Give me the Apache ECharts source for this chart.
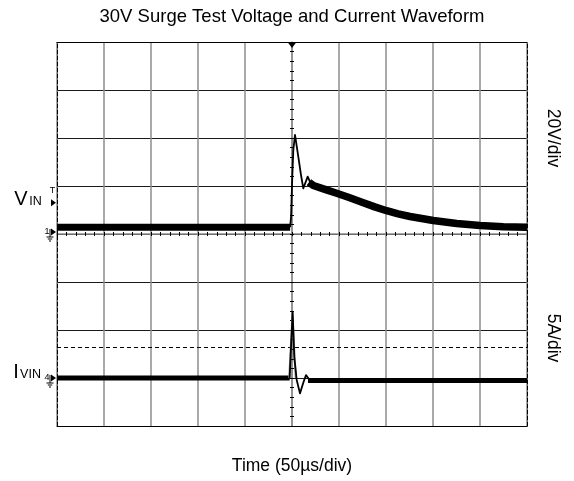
<!DOCTYPE html>
<html><head><meta charset="utf-8">
<script src="https://cdn.jsdelivr.net/npm/echarts@6/dist/echarts.min.js"></script>
<style>html,body{margin:0;padding:0;background:#fff}#c{width:574px;height:481px}</style>
</head><body><div id="c"></div>
<script>
// ---- data (time in µs, voltage in V, current in A) ----
const timeTicks = [-250, -200, -150, -100, -50, 0, 50, 100, 150, 200, 250];
const divTicks = [-4, -3, -2, -1, 0, 1, 2, 3, 4];
const voltsPerDiv = 20;
const ampsPerDiv = 5;
const vinGroundDiv = 0;
const iinGroundDiv = -3;
const vinTrigLevelV = 13;
const iinCursorA = 3.2;

const vinBaseT = [-250, -200, -150, -100, -50, -2];
const vinBaseV = [2.8, 2.8, 2.8, 2.8, 2.8, 2.8];
const vinPulseT = [-2, -1, 0.3, 1.4, 3.2, 6.7, 9.3, 12, 16.7, 20];
const vinPulseV = [2.8, 7.2, 23.9, 35, 41.3, 32.2, 25.3, 19, 23.9, 21];
const vinDecayT = [18, 22.7, 35, 47.5, 60, 75.9, 88, 100.7, 113, 125.5, 150.3, 175.2, 200, 224.8, 250];
const vinDecayV = [21.6, 20.2, 18.6, 17.0, 15.3, 13.0, 11.3, 9.7, 8.4, 7.3, 5.6, 4.4, 3.5, 3.0, 2.8];

const iBaseT = [-250, -150, -50, -2.5];
const iBaseI = [0, 0, 0, 0];
const iGhostT = [-3, 0.5, 4];
const iGhostI = [0, 6.5, 0];
const iPulseT = [-2.5, -1.2, 0.7, 2.4, 5, 8.5, 12, 14.9, 18.4];
const iPulseI = [0, 2.9, 6.9, 2.2, -0.2, -1.6, -0.5, 0.3, -0.15];
const iTailT = [17, 50, 100, 150, 200, 250];
const iTailI = [-0.25, -0.25, -0.25, -0.25, -0.25, -0.25];

// ---- chart ----
const FONT = '"Liberation Sans", Arial, Helvetica, sans-serif';
const chart = echarts.init(document.getElementById('c'));
const toV = v => v / voltsPerDiv + vinGroundDiv;
const toI = a => a / ampsPerDiv + iinGroundDiv;
const pair = (ts, vs, f) => ts.map((t, i) => [t, f(vs[i])]);

function line(data, width, color, extra) {
  return Object.assign({
    type: 'line', data, xAxisIndex: 0, yAxisIndex: 0,
    showSymbol: false, symbol: 'none', silent: true, animation: false,
    lineStyle: { color: color || '#000', width, join: 'round' }, z: 5
  }, extra || {});
}

const xMin = timeTicks[0], xMax = timeTicks[timeTicks.length - 1], xInt = timeTicks[1] - timeTicks[0];
const yMin = divTicks[0], yMax = divTicks[divTicks.length - 1], yInt = divTicks[1] - divTicks[0];
const xBase = { type: 'value', min: xMin, max: xMax, interval: xInt, axisLabel: { show: false }, axisTick: { show: false }, splitLine: { show: false } };
const yBase = { type: 'value', min: yMin, max: yMax, interval: yInt, axisLabel: { show: false }, axisTick: { show: false }, splitLine: { show: false } };
const tickStyle = { color: '#000', width: 1 };
const centerLine = { color: '#8c8c8c', width: 1.5 };

const option = {
  animation: false,
  backgroundColor: '#fff',
  grid: { left: 57, top: 42, width: 470, height: 384 },
  xAxis: [
    Object.assign({}, xBase, { position: 'bottom', axisLine: { show: true, onZero: false, lineStyle: { color: '#000', width: 1 } },
      splitLine: { show: true, lineStyle: { color: '#8c8c8c', width: 1.5 } } }),
    Object.assign({}, xBase, { position: 'top', axisLine: { show: true, onZero: false, lineStyle: { color: '#000', width: 1 } } }),
    Object.assign({}, xBase, { position: 'bottom', axisLine: { show: true, onZero: true, onZeroAxisIndex: 0, lineStyle: centerLine },
      axisTick: { show: true, inside: false, length: 2, lineStyle: tickStyle },
      minorTick: { show: true, splitNumber: 5, length: 2, lineStyle: tickStyle } }),
    Object.assign({}, xBase, { position: 'bottom', axisLine: { show: false, onZero: true, onZeroAxisIndex: 0 },
      axisTick: { show: true, inside: true, length: 2, lineStyle: tickStyle },
      minorTick: { show: true, splitNumber: 5, length: 2, lineStyle: tickStyle } })
  ],
  yAxis: [
    Object.assign({}, yBase, { position: 'left', axisLine: { show: true, onZero: false, lineStyle: { color: '#000', width: 1, type: [4, 2] } },
      splitLine: { show: true, lineStyle: { color: '#1a1a1a', width: 1 } } }),
    Object.assign({}, yBase, { position: 'right', axisLine: { show: true, onZero: false, lineStyle: { color: '#000', width: 1, type: [4, 2] } } }),
    Object.assign({}, yBase, { position: 'left', axisLine: { show: true, onZero: true, onZeroAxisIndex: 0, lineStyle: centerLine },
      axisTick: { show: true, inside: false, length: 2, lineStyle: tickStyle },
      minorTick: { show: true, splitNumber: 5, length: 2, lineStyle: tickStyle } }),
    Object.assign({}, yBase, { position: 'left', axisLine: { show: false, onZero: true, onZeroAxisIndex: 0 },
      axisTick: { show: true, inside: true, length: 2, lineStyle: tickStyle },
      minorTick: { show: true, splitNumber: 5, length: 2, lineStyle: tickStyle } })
  ],
  series: [
    line(pair(vinBaseT, vinBaseV, toV), 7),
    line(pair(vinPulseT, vinPulseV, toV), 1.8),
    line(pair(vinDecayT, vinDecayV, toV), 7.5),
    line(pair(iBaseT, iBaseI, toI), 5),
    line(pair(iGhostT, iGhostI, toI), 2, '#9a9a9a'),
    line(pair(iPulseT, iPulseI, toI), 1.8),
    line(pair(iTailT, iTailI, toI), 5, '#000', {
      markLine: { silent: true, symbol: 'none', label: { show: false }, animation: false,
        lineStyle: { color: '#000', width: 1, type: [4, 3] },
        data: [{ yAxis: toI(iinCursorA) }] },
      markPoint: { silent: true, animation: false, symbol: 'triangle', symbolRotate: 180, symbolSize: [9, 6],
        symbolOffset: [0, 3], itemStyle: { color: '#000' }, label: { show: false },
        data: [{ coord: [0, yMax] }] }
    })
  ]
};
chart.setOption(option);

// ---- annotations placed through the axes ----
const px = (t, d) => chart.convertToPixel({ gridIndex: 0 }, [t, d]);
const xL = px(xMin, 0)[0];
const xR = px(xMax, 0)[0];
const xC = px(0, 0)[0];
const yVg = px(xMin, vinGroundDiv)[1];
const yIg = px(xMin, iinGroundDiv)[1];
const yTrig = px(xMin, toV(vinTrigLevelV))[1];
const yVdivMid = px(0, 2)[1];
const yIdivMid = px(0, -2)[1];

function txt(text, x, y, size, extra) {
  return { type: 'text', silent: true, style: Object.assign({ text, x, y, fontSize: size, fontFamily: FONT, fill: '#000', align: 'center', verticalAlign: 'middle' }, extra || {}) };
}
function rtxt(text, x, y, size) {
  return { type: 'text', silent: true, x, y, rotation: -Math.PI / 2,
    style: { text, x: 0, y: 0, fontSize: size, fontFamily: FONT, fill: '#000', align: 'center', verticalAlign: 'middle' } };
}
function arrow(y) {
  return { type: 'polygon', silent: true, shape: { points: [[xL - 6, y - 3.5], [xL - 1, y], [xL - 6, y + 3.5]] }, style: { fill: '#000' } };
}
function ground(label, y) {
  const gx = xL - 7;
  return [
    txt(label, xL - 10, y - 0.5, 9),
    arrow(y),
    { type: 'line', silent: true, shape: { x1: gx, y1: y - 3, x2: gx, y2: y + 5 }, style: { stroke: '#000', lineWidth: 1 } },
    { type: 'line', silent: true, shape: { x1: gx - 3.5, y1: y + 5, x2: gx + 3.5, y2: y + 5 }, style: { stroke: '#000', lineWidth: 1 } },
    { type: 'line', silent: true, shape: { x1: gx - 2.2, y1: y + 7, x2: gx + 2.2, y2: y + 7 }, style: { stroke: '#000', lineWidth: 1 } },
    { type: 'line', silent: true, shape: { x1: gx - 1, y1: y + 9, x2: gx + 1, y2: y + 9 }, style: { stroke: '#000', lineWidth: 1 } }
  ];
}

const graphics = [
  txt('30V Surge Test Voltage and Current Waveform', xC, 17, 18.5),
  txt('Time (50µs/div)', xC, 466, 17.5),
  rtxt('20V/div', xR + 26, yVdivMid, 17.5),
  rtxt('5A/div', xR + 26, yIdivMid + 8, 17.5),
  // V_IN label
  txt('V', 21, yTrig + 6.5, 20, { verticalAlign: 'bottom' }),
  txt('IN', 35.5, yTrig + 5.5, 12.5, { verticalAlign: 'bottom' }),
  txt('T', xL - 4.5, yTrig - 12, 9),
  arrow(yTrig),
  // I_VIN label
  txt('I', 16, yIg + 4.5, 20, { verticalAlign: 'bottom' }),
  txt('VIN', 30.5, yIg + 3.5, 12.5, { verticalAlign: 'bottom' })
].concat(ground('1', yVg - 2), ground('4', yIg));

chart.setOption({ graphic: graphics });
</script>
</body></html>
